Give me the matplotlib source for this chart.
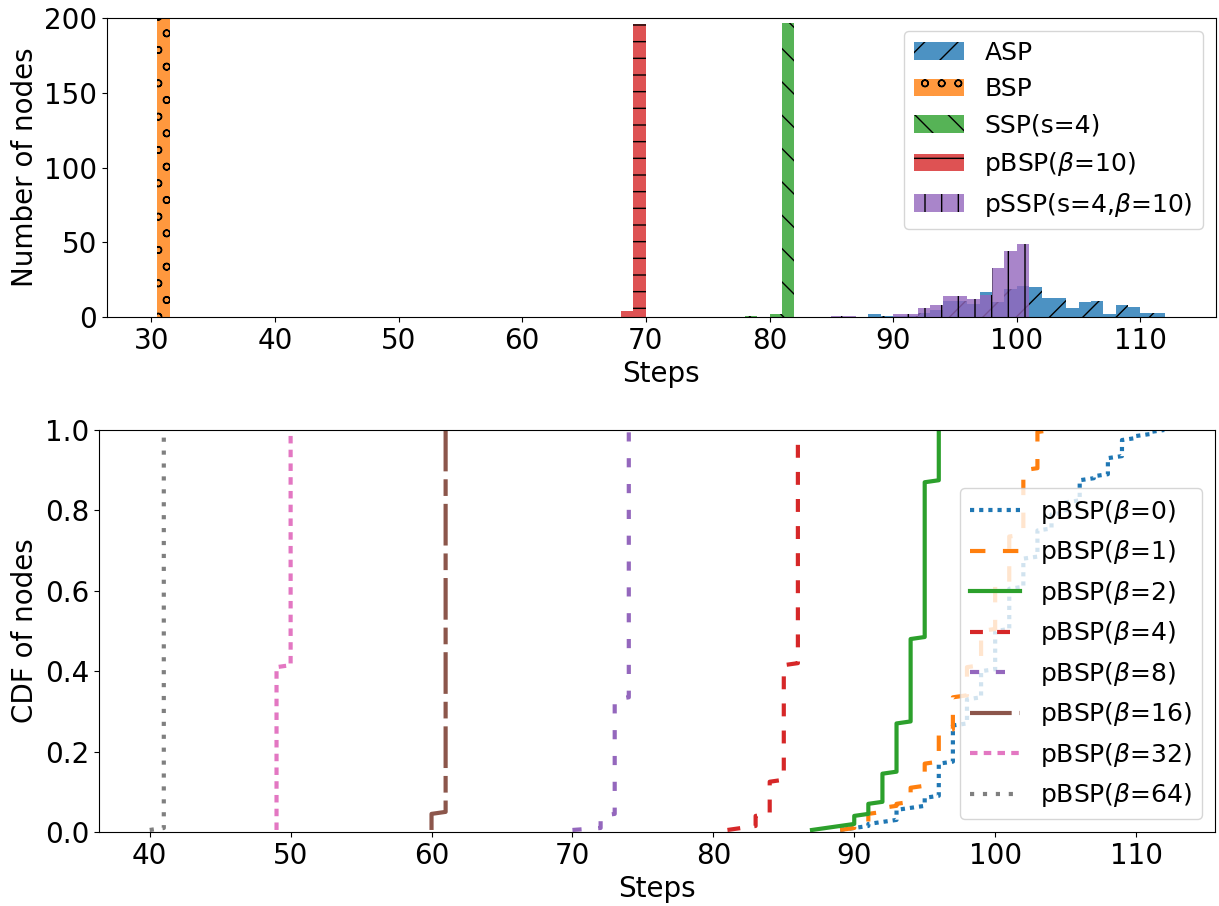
import numpy as np
import matplotlib.pyplot as plt

# ======================================================
# TOP: histogram of finishing step per node (200 nodes)
# ======================================================
asp_edges = np.arange(88, 113)
asp_counts = [2, 1, 1, 1, 3, 5, 11, 11, 9, 17, 10, 19, 21, 20,
              13, 13, 6, 10, 11, 2, 8, 7, 3, 3]
bsp_edges = np.array([30.5, 31.5])
bsp_counts = [200]
ssp_edges = np.arange(78, 83)
ssp_counts = [1, 0, 2, 197]
pbsp10_edges = np.arange(68, 71)
pbsp10_counts = [4, 196]
pssp_edges = np.arange(85, 102)
pssp_counts = [1, 1, 0, 0, 0, 2, 2, 6, 8, 14, 14, 12, 15, 33, 44, 49]

hist_labels = ["ASP", "BSP", "SSP(s=4)", r"pBSP($\beta$=10)",
               r"pSSP(s=4,$\beta$=10)"]
hist_hatches = ["/", "o", "\\", "-", "|"]

# ======================================================
# BOTTOM: CDF of steps for pBSP with different beta
# (step value -> number of nodes)
# ======================================================
b0_steps = np.arange(89, 113)
b0_counts = [1, 1, 2, 1, 6, 1, 5, 17, 19, 13, 14, 20, 21, 15, 14, 8,
             6, 11, 2, 9, 9, 2, 2, 1]
b1_steps = np.arange(89, 105)
b1_counts = [1, 2, 6, 3, 2, 8, 12, 16, 17, 15, 18, 22, 25, 33, 19, 1]
b2_steps = np.arange(87, 97)
b2_counts = [1, 1, 1, 5, 6, 15, 25, 42, 78, 26]
b4_steps = np.arange(81, 87)
b4_counts = [1, 1, 6, 17, 58, 117]
b8_steps = np.arange(70, 75)
b8_counts = [1, 0, 7, 58, 134]
b16_steps = [60, 61]
b16_counts = [9, 191]
b32_steps = [49, 50]
b32_counts = [82, 118]
b64_steps = [40, 41]
b64_counts = [1, 199]

cdf_labels = [r"pBSP($\beta$=0)", r"pBSP($\beta$=1)", r"pBSP($\beta$=2)",
              r"pBSP($\beta$=4)", r"pBSP($\beta$=8)", r"pBSP($\beta$=16)",
              r"pBSP($\beta$=32)", r"pBSP($\beta$=64)"]
cdf_styles = [(0, (1, 1.2)), (0, (3.7, 4.2)), "-", (0, (3.1, 3.4)),
              (0, (2.2, 4.0)), (0, (10, 1.9, 4, 1.9)), (0, (1.8, 1.5)),
              (0, (1, 2.1))]


def ecdf(steps, counts):
    x = np.repeat(steps, counts)
    y = np.arange(1, len(x) + 1) / len(x)
    return x, y


plt.rcParams["font.size"] = 20

fig = plt.figure(figsize=(12.19, 9.06), dpi=100)
ax1 = fig.add_axes([0.0878, 0.6501, 0.9094, 0.3300])
ax2 = fig.add_axes([0.0812, 0.0817, 0.9155, 0.4437])

# ----- histograms -----
hist_data = [(asp_edges, asp_counts), (bsp_edges, bsp_counts),
             (ssp_edges, ssp_counts), (pbsp10_edges, pbsp10_counts),
             (pssp_edges, pssp_counts)]
for i, (edges, counts) in enumerate(hist_data):
    ax1.hist(edges[:-1], bins=edges, weights=counts, color=f"C{i}",
             alpha=0.8, hatch=hist_hatches[i], label=hist_labels[i])

ax1.set_ylim(0, 200)
ax1.set_yticks([0, 50, 100, 150, 200])
ax1.set_xlabel("Steps")
ax1.set_ylabel("Number of nodes")
ax1.legend(loc="upper right", fontsize=18)

# ----- CDFs -----
cdf_data = [(b0_steps, b0_counts), (b1_steps, b1_counts),
            (b2_steps, b2_counts), (b4_steps, b4_counts),
            (b8_steps, b8_counts), (b16_steps, b16_counts),
            (b32_steps, b32_counts), (b64_steps, b64_counts)]
for i, (steps, counts) in enumerate(cdf_data):
    x, y = ecdf(steps, counts)
    ax2.plot(x, y, color=f"C{i}", linestyle=cdf_styles[i],
             linewidth=3, label=cdf_labels[i])

ax2.set_ylim(0, 1.0)
ax2.set_xlabel("Steps")
ax2.set_ylabel("CDF of nodes")
ax2.legend(loc="lower right", fontsize=18)

fig.savefig("out.png", dpi=100)
